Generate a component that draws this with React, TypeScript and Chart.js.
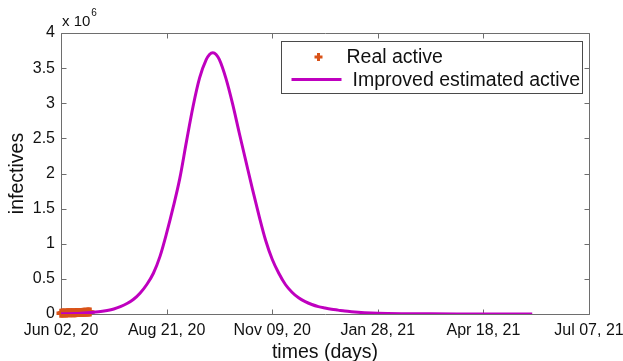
import React, { useEffect, useRef } from 'react';
import { Chart, registerables } from 'chart.js';

Chart.register(...registerables);

// ---- Data ----
const xTickDays = [0, 80, 160, 240, 320, 400];
const xTickLabels = ['Jun 02, 20', 'Aug 21, 20', 'Nov 09, 20', 'Jan 28, 21', 'Apr 18, 21', 'Jul 07, 21'];
const yTickValues = [0, 0.5, 1, 1.5, 2, 2.5, 3, 3.5, 4];

// Improved estimated active (millions), by day since Jun 02, 20
const estimatedDays = [
  0, 5, 10, 15, 20, 25, 30, 35, 40, 45, 50, 55, 60, 65, 70, 75, 80, 85, 90, 95,
  100, 105, 110, 112.5, 115, 117.5, 120, 125, 130, 135, 140, 145, 150, 155, 160, 165, 170, 175,
  180, 185, 190, 195, 200, 205, 210, 215, 220, 225, 230, 240, 260, 280, 300, 320, 340, 357,
];
const estimatedActive = [
  0.003, 0.005, 0.008, 0.012, 0.018, 0.026, 0.035, 0.05, 0.072, 0.106, 0.15, 0.21, 0.3, 0.42, 0.58, 0.82, 1.15, 1.52, 1.93, 2.45,
  2.95, 3.36, 3.62, 3.695, 3.72, 3.695, 3.62, 3.35, 2.99, 2.58, 2.18, 1.78, 1.4, 1.05, 0.78, 0.58, 0.42, 0.31,
  0.23, 0.175, 0.135, 0.105, 0.085, 0.068, 0.055, 0.042, 0.032, 0.024, 0.018, 0.01, 0.004, 0.002, 0.001, 0.0005, 0.0002, 0.0001,
];

// Real active (millions)
const realDays = [0, 1, 2, 3, 4, 5, 6, 7, 8, 9, 10, 11, 12, 13, 14, 15, 16, 17, 18, 19, 20, 21, 22];
const realActive = [
  0.012, 0.013, 0.014, 0.015, 0.016, 0.0165, 0.017, 0.0175, 0.018, 0.0185, 0.019, 0.0195,
  0.02, 0.0205, 0.021, 0.022, 0.023, 0.024, 0.025, 0.026, 0.027, 0.028, 0.029,
];

const legendLabels = ['Real active', 'Improved estimated active'];
const axisTitleX = 'times (days)';
const axisTitleY = 'infectives';

// ---- Styles ----
const FONT = "'Liberation Sans', Arial, sans-serif";
const ORANGE = '#D95319';
const PURPLE = '#BF00BF';
const AXIS_COLOR = '#6e6e6e';
const TEXT_COLOR = '#111111';

const matlabFrame = {
  id: 'matlabFrame',
  beforeDatasetsDraw(chart: any) {
    const { ctx, chartArea: a, scales } = chart;
    const L = Math.round(a.left) + 0.5;
    const R = Math.round(a.right) + 0.5;
    const T = Math.round(a.top) + 0.5;
    const B = Math.round(a.bottom) + 0.5;
    ctx.save();
    ctx.strokeStyle = AXIS_COLOR;
    ctx.lineWidth = 1;
    ctx.beginPath();
    ctx.moveTo(L, T);
    ctx.lineTo(R, T);
    ctx.lineTo(R, B);
    ctx.lineTo(L, B);
    ctx.closePath();
    const tl = 5;
    xTickDays.forEach((d) => {
      const px = Math.round(scales.x.getPixelForValue(d)) + 0.5;
      ctx.moveTo(px, B);
      ctx.lineTo(px, B - tl);
      ctx.moveTo(px, T);
      ctx.lineTo(px, T + tl);
    });
    yTickValues.forEach((v) => {
      const py = Math.round(scales.y.getPixelForValue(v)) + 0.5;
      ctx.moveTo(L, py);
      ctx.lineTo(L + tl, py);
      ctx.moveTo(R, py);
      ctx.lineTo(R - tl, py);
    });
    ctx.stroke();
    ctx.restore();
  },
  afterDraw(chart: any) {
    const { ctx, chartArea: a } = chart;
    ctx.save();
    // exponent label
    ctx.fillStyle = TEXT_COLOR;
    ctx.textBaseline = 'alphabetic';
    ctx.textAlign = 'left';
    ctx.font = `15px ${FONT}`;
    ctx.fillText('x 10', a.left + 1, a.top - 7);
    const w = ctx.measureText('x 10').width;
    ctx.font = `10px ${FONT}`;
    ctx.fillText('6', a.left + 1 + w + 1, a.top - 17);

    // legend
    const bw = 301;
    const bh = 52;
    const bx = Math.round(a.right) - 7 - bw + 0.5;
    const by = Math.round(a.top) + 8 + 0.5;
    ctx.fillStyle = '#ffffff';
    ctx.fillRect(bx, by, bw, bh);
    ctx.strokeStyle = '#4a4a4a';
    ctx.lineWidth = 1;
    ctx.strokeRect(bx, by, bw, bh);

    // entry 1: plus marker
    const px = bx + 37;
    const py = by + 15.5;
    ctx.strokeStyle = ORANGE;
    ctx.lineWidth = 3;
    ctx.beginPath();
    ctx.moveTo(px - 4, py);
    ctx.lineTo(px + 4, py);
    ctx.moveTo(px, py - 4);
    ctx.lineTo(px, py + 4);
    ctx.stroke();
    ctx.fillStyle = TEXT_COLOR;
    ctx.font = `19.5px ${FONT}`;
    ctx.fillText(legendLabels[0], bx + 65, by + 21.5);

    // entry 2: line
    ctx.strokeStyle = PURPLE;
    ctx.lineWidth = 3;
    ctx.beginPath();
    ctx.moveTo(bx + 10, by + 38);
    ctx.lineTo(bx + 60, by + 38);
    ctx.stroke();
    ctx.fillText(legendLabels[1], bx + 71, by + 44.5);
    ctx.restore();
  },
};

export default function App() {
  const canvasRef = useRef<HTMLCanvasElement | null>(null);

  useEffect(() => {
    if (!canvasRef.current) return;
    Chart.defaults.font.family = FONT;
    Chart.defaults.color = TEXT_COLOR;
    const chart = new Chart(canvasRef.current, {
      type: 'scatter',
      data: {
        datasets: [
          {
            label: legendLabels[1],
            data: estimatedDays.map((d, i) => ({ x: d, y: estimatedActive[i] })),
            showLine: true,
            borderColor: PURPLE,
            backgroundColor: PURPLE,
            borderWidth: 3,
            pointRadius: 0,
            cubicInterpolationMode: 'monotone',
            order: 0,
          },
          {
            label: legendLabels[0],
            data: realDays.map((d, i) => ({ x: d, y: realActive[i] })),
            showLine: false,
            pointStyle: 'cross',
            pointRadius: 4.5,
            pointBorderWidth: 3.5,
            borderColor: ORANGE,
            backgroundColor: ORANGE,
            clip: false,
            order: 1,
          } as any,
        ],
      },
      options: {
        animation: false,
        responsive: false,
        maintainAspectRatio: false,
        events: [],
        layout: { padding: { left: 0, right: 34, top: 33, bottom: 0 } },
        plugins: {
          legend: { display: false },
          tooltip: { enabled: false },
        },
        scales: {
          x: {
            type: 'linear',
            min: 0,
            max: 400,
            afterBuildTicks: (scale: any) => {
              scale.ticks = xTickDays.map((v) => ({ value: v }));
            },
            afterFit: (scale: any) => {
              scale.height = 47;
              scale.paddingLeft = 0;
              scale.paddingRight = 0;
            },
            grid: { display: false, drawTicks: false },
            border: { display: false },
            ticks: {
              padding: 7,
              maxRotation: 0,
              autoSkip: false,
              color: TEXT_COLOR,
              font: { size: 16, family: FONT },
              callback: (v: any) => {
                const i = xTickDays.indexOf(Number(v));
                return i >= 0 ? xTickLabels[i] : '';
              },
            },
            title: {
              display: true,
              text: axisTitleX,
              color: TEXT_COLOR,
              font: { size: 19.5, family: FONT },
              padding: { top: 0, bottom: -3 },
            },
          },
          y: {
            type: 'linear',
            min: 0,
            max: 4,
            afterBuildTicks: (scale: any) => {
              scale.ticks = yTickValues.map((v) => ({ value: v }));
            },
            afterFit: (scale: any) => {
              scale.width = 61;
              scale.paddingTop = 0;
              scale.paddingBottom = 0;
            },
            grid: { display: false, drawTicks: false },
            border: { display: false },
            ticks: {
              padding: 6,
              color: TEXT_COLOR,
              font: { size: 16, family: FONT },
              callback: (v: any) => String(v),
            },
            title: {
              display: true,
              text: axisTitleY,
              color: TEXT_COLOR,
              font: { size: 19.5, family: FONT },
              padding: { top: 6, bottom: 0 },
            },
          },
        },
      },
      plugins: [matlabFrame],
    } as any);
    return () => chart.destroy();
  }, []);

  return (
    <div style={{ position: 'fixed', left: 0, top: 0, width: 623, height: 361, background: '#fff' }}>
      <canvas ref={canvasRef} width={623} height={361} style={{ display: 'block', width: 623, height: 361 }} />
    </div>
  );
}
